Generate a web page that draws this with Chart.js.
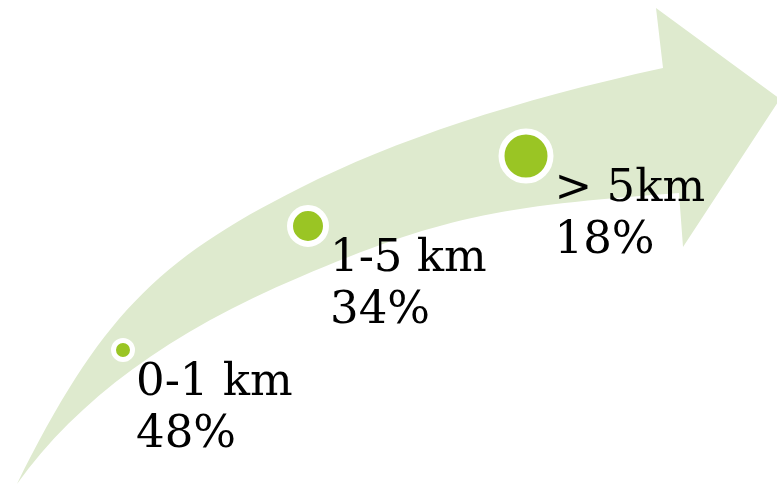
<!DOCTYPE html>
<html>
<head>
<meta charset="utf-8">
<script src="https://cdn.jsdelivr.net/npm/chart.js@4.4.1/dist/chart.umd.min.js"></script>
<style>
  html, body { margin: 0; padding: 0; background: #fff; }
  #wrap { width: 777px; height: 484px; }
</style>
</head>
<body>
<div id="wrap"><canvas id="distanceChart" width="777" height="484"></canvas></div>
<script>
// Data
const categories = ['0-1 km', '1-5 km', '> 5km'];
const shares = [48, 34, 18];

// Layout of the markers along the arrow (canvas units)
const markerX = [123, 308, 526];
const markerY = [350, 226, 156];
const markerRadius = [9.5, 18, 24.5];
const markerRing = [5, 6, 6];

// Arrow outline (canvas units): tail tip, then bezier segments [c1, c2, end]
const arrowTail = [17, 484];
const arrowUpper = [
    [[99, 319], [156, 260], [300, 188]],
    [[395, 140], [516, 100], [663, 68]]
];
const arrowHead = [[656, 8], [780, 99], [683, 247], [679, 193]];
const arrowLower = [
    [[496, 206], [439, 218], [300, 277]],
    [[171, 331], [77, 400], [17, 484]]
];

const arrowColor = '#DEEACE';
const dotColor = '#9AC524';

const arrowPlugin = {
    id: 'arrowShape',
    beforeDatasetsDraw(chart) {
        const ctx = chart.ctx;
        const xs = chart.scales.x, ys = chart.scales.y;
        const px = p => xs.getPixelForValue(p[0]);
        const py = p => ys.getPixelForValue(p[1]);
        const curve = seg => ctx.bezierCurveTo(px(seg[0]), py(seg[0]), px(seg[1]), py(seg[1]), px(seg[2]), py(seg[2]));
        ctx.save();
        ctx.fillStyle = arrowColor;
        ctx.beginPath();
        ctx.moveTo(px(arrowTail), py(arrowTail));
        arrowUpper.forEach(curve);
        arrowHead.forEach(p => ctx.lineTo(px(p), py(p)));
        arrowLower.forEach(curve);
        ctx.closePath();
        ctx.fill();
        ctx.restore();
    }
};

const labelPlugin = {
    id: 'pointLabels',
    afterDatasetsDraw(chart) {
        const ctx = chart.ctx;
        const meta = chart.getDatasetMeta(0);
        ctx.save();
        ctx.fillStyle = '#000';
        ctx.font = '45px "DejaVu Serif", serif';
        ctx.textAlign = 'left';
        ctx.textBaseline = 'alphabetic';
        meta.data.forEach((pt, i) => {
            const x = pt.x + markerRadius[i] + markerRing[i] / 2 + 1;
            const y = pt.y + 45;
            ctx.fillText(categories[i], x, y);
            ctx.fillText(shares[i] + '%', x, y + 52);
        });
        ctx.restore();
    }
};

const ctx = document.getElementById('distanceChart').getContext('2d');
new Chart(ctx, {
    type: 'bubble',
    data: {
        labels: categories,
        datasets: [{
            label: 'Share',
            data: categories.map((c, i) => ({ x: markerX[i], y: markerY[i], r: markerRadius[i], v: shares[i] })),
            backgroundColor: dotColor,
            borderColor: '#ffffff',
            borderWidth: c => markerRing[c.dataIndex],
            hoverRadius: 0,
            clip: false
        }]
    },
    options: {
        responsive: false,
        devicePixelRatio: 1,
        animation: false,
        layout: { padding: 0, autoPadding: false },
        plugins: {
            legend: { display: false },
            tooltip: { enabled: false }
        },
        scales: {
            x: { type: 'linear', min: 0, max: 777, display: false },
            y: { type: 'linear', min: 0, max: 484, reverse: true, display: false }
        }
    },
    plugins: [arrowPlugin, labelPlugin]
});
</script>
</body>
</html>
